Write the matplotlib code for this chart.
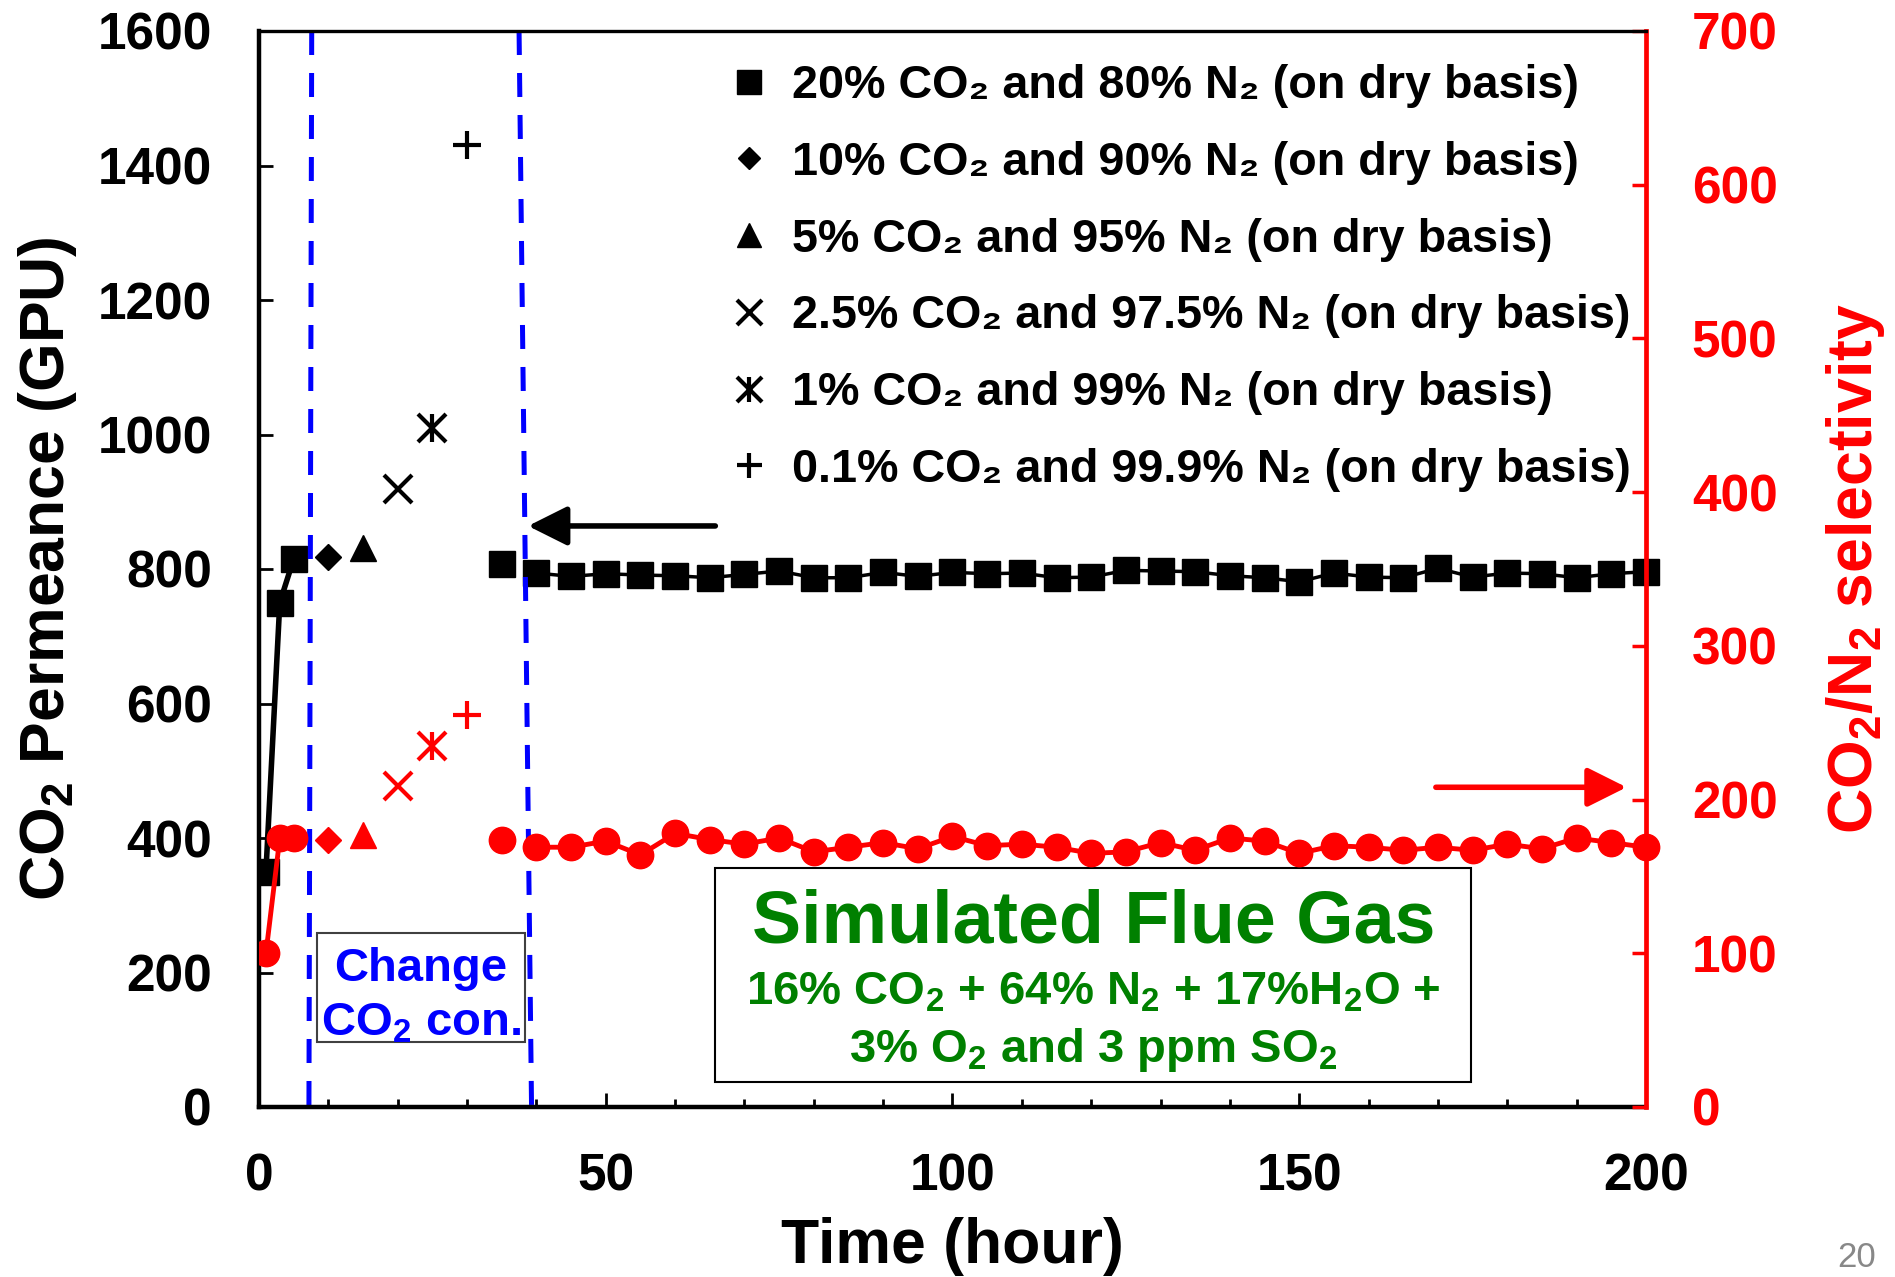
import matplotlib
matplotlib.use('Agg')
import matplotlib.pyplot as plt
from matplotlib.lines import Line2D
from matplotlib.patches import Rectangle
from matplotlib.legend_handler import HandlerTuple

plt.rcParams['font.family'] = ['Liberation Sans', 'DejaVu Sans']
plt.rcParams['font.weight'] = 'bold'
plt.rcParams['axes.labelweight'] = 'bold'
plt.rcParams['mathtext.default'] = 'regular'

# 20% CO2 start-up
t_start = [1, 3, 5]
perm_start = [350, 750, 815]
sel_start = [100, 175, 175]

# change of CO2 concentration, one point each
t_steps = [10, 15, 20, 25, 30]
perm_steps = [818, 831, 919, 1009, 1430]
sel_steps = [174, 177, 209, 235, 255]

# back to 20% CO2
t_back = [35]
perm_back = [808]
sel_back = [174]

# simulated flue gas
t_flue = list(range(40, 201, 5))
perm_flue = [794, 789, 793, 791, 790, 787, 792, 797, 787, 787, 795, 789, 795, 793,
             794, 787, 788, 798, 797, 796, 790, 787, 781, 794, 788, 787, 801, 788,
             794, 793, 787, 793, 796]
sel_flue = [169, 169, 173, 164, 178, 174, 171, 175, 166, 169, 172, 168, 176, 170,
            171, 169, 165, 166, 172, 167, 175, 173, 165, 170, 169, 167, 169, 167,
            171, 168, 175, 172, 169]

labels = ['20% CO₂ and 80% N₂ (on dry basis)',
          '10% CO₂ and 90% N₂ (on dry basis)',
          '5% CO₂ and 95% N₂ (on dry basis)',
          '2.5% CO₂ and 97.5% N₂ (on dry basis)',
          '1% CO₂ and 99% N₂ (on dry basis)',
          '0.1% CO₂ and 99.9% N₂ (on dry basis)']

# dashed separators (hour at top, hour at bottom)
sep1 = (7.6, 7.2)
sep2 = (37.5, 39.3)

fig = plt.figure(figsize=(18.95, 12.77), dpi=100)
ax = fig.add_axes([259/1895, 1-1107/1277, (1646-259)/1895, (1107-31)/1277])
ax2 = ax.twinx()

# black: permeance
ax.plot(t_start, perm_start, '-s', color='k', ms=19, lw=4)
ax.plot(t_back, perm_back, 's', color='k', ms=19)
ax.plot(t_flue, perm_flue, '-s', color='k', ms=19, lw=2.5, clip_on=False)
mk = dict(color='k', ls='none')
ax.plot(t_steps[0], perm_steps[0], marker='D', ms=13, **mk)
ax.plot(t_steps[1], perm_steps[1], marker='^', ms=19, **mk)
ax.plot(t_steps[2], perm_steps[2], marker='x', ms=20, mew=3, **mk)
ax.plot(t_steps[3], perm_steps[3], marker='x', ms=20, mew=3, **mk)
ax.plot(t_steps[3], perm_steps[3], marker='|', ms=20, mew=3, **mk)
ax.plot(t_steps[4], perm_steps[4], marker='+', ms=20, mew=3, **mk)

# red: selectivity
ax2.plot(t_start, sel_start, '-o', color='red', ms=19, lw=3.5)
ax2.plot(t_back, sel_back, 'o', color='red', ms=19)
ax2.plot(t_flue, sel_flue, '-o', color='red', ms=19, lw=3.5, clip_on=False)
mr = dict(color='red', ls='none')
ax2.plot(t_steps[0], sel_steps[0], marker='D', ms=13, **mr)
ax2.plot(t_steps[1], sel_steps[1], marker='^', ms=19, **mr)
ax2.plot(t_steps[2], sel_steps[2], marker='x', ms=20, mew=3, **mr)
ax2.plot(t_steps[3], sel_steps[3], marker='x', ms=20, mew=3, **mr)
ax2.plot(t_steps[3], sel_steps[3], marker='|', ms=20, mew=3, **mr)
ax2.plot(t_steps[4], sel_steps[4], marker='+', ms=20, mew=3, **mr)

ax.set_xlim(0, 200)
ax.set_ylim(0, 1600)
ax2.set_ylim(0, 700)
ax.set_xticks(range(0, 201, 50))
ax.set_xticks(range(0, 201, 10), minor=True)
ax.set_yticks(range(0, 1601, 200))
ax2.set_yticks(range(0, 701, 100))

for s in ['left', 'bottom']:
    ax.spines[s].set_linewidth(3.2)
ax.spines['right'].set_visible(False)
ax.spines['top'].set_visible(False)
ax2.spines['left'].set_visible(False)
ax2.spines['bottom'].set_visible(False)
ax2.spines['top'].set_linewidth(2.4)
ax2.spines['right'].set_linewidth(3.4)
ax2.spines['right'].set_color('red')

ax.tick_params(axis='x', which='major', direction='in', length=10, width=2, pad=33, labelsize=37)
ax.tick_params(axis='x', which='minor', direction='in', length=6, width=2)
ax.tick_params(axis='y', direction='in', length=10, width=2, pad=34, labelsize=37)
ax2.tick_params(axis='y', direction='in', length=10, width=2.5, pad=33, labelsize=37, colors='red')

ax.set_xlabel('Time (hour)', fontsize=45, labelpad=11)
ax.set_ylabel('CO$_2$ Permeance (GPU)', fontsize=45, labelpad=13)
ax2.set_ylabel('CO$_2$/N$_2$ selectivity', fontsize=45, color='red', labelpad=33)

# separators
ax.plot([sep1[0], sep1[1]], [1600, 0], color='blue', lw=3.6, ls=(0, (4.8, 3.6)))
ax.plot([sep2[0], sep2[1]], [1600, 0], color='blue', lw=3.6, ls=(0, (4.8, 3.6)))

# Change CO2 con. box
ax.add_patch(Rectangle((8.3, 97), 30.0, 162, facecolor='white', edgecolor='#404040', lw=1.5, zorder=3))
ax.text(23.3, 187, 'Change', color='blue', fontsize=34, ha='center', va='baseline', zorder=4)
ax.text(23.3, 107, 'CO$_2$ con.', color='blue', fontsize=34, ha='center', va='baseline', zorder=4)

# flue gas box
green = '#008000'
ax.add_patch(Rectangle((65.8, 37.6), 109.0, 318.1, facecolor='white', edgecolor='k', lw=1.5, zorder=3))
ax.text(120.3, 245, 'Simulated Flue Gas', color=green, fontsize=53, ha='center', va='baseline', zorder=4)
ax.text(120.3, 151.7, '16% CO$_2$ + 64% N$_2$ + 17%H$_2$O +', color=green, fontsize=34,
        ha='center', va='baseline', zorder=4)
ax.text(120.3, 67.4, '3% O$_2$ and 3 ppm SO$_2$', color=green, fontsize=34,
        ha='center', va='baseline', zorder=4)

# arrows
ax.annotate('', xy=(38.8, 864), xytext=(65.8, 864),
            arrowprops=dict(arrowstyle='-|>,head_length=1.2,head_width=0.6', color='k',
                            lw=4, mutation_scale=20, shrinkA=0, shrinkB=0))
ax2.annotate('', xy=(197.2, 208), xytext=(169.7, 208),
             arrowprops=dict(arrowstyle='-|>,head_length=1.2,head_width=0.6', color='red',
                             lw=4, mutation_scale=20, shrinkA=0, shrinkB=0))

# legend
h = [Line2D([], [], ls='none', marker='s', color='k', ms=19),
     Line2D([], [], ls='none', marker='D', color='k', ms=13),
     Line2D([], [], ls='none', marker='^', color='k', ms=19),
     Line2D([], [], ls='none', marker='x', color='k', ms=20, mew=3),
     (Line2D([], [], ls='none', marker='x', color='k', ms=20, mew=3),
      Line2D([], [], ls='none', marker='|', color='k', ms=20, mew=3)),
     Line2D([], [], ls='none', marker='+', color='k', ms=20, mew=3)]
ax.legend(h, labels, loc='upper left', bbox_to_anchor=(726/1895, 1-64/1277),
          bbox_transform=fig.transFigure, frameon=False, fontsize=33.7,
          handlelength=1.0, handletextpad=0.4, labelspacing=0.7, borderpad=0,
          borderaxespad=0, markerscale=0.9,
          handler_map={tuple: HandlerTuple(ndivide=1, pad=0)})

fig.text(1837/1895, 3/1277, '20', color='#888888', fontsize=25, fontweight='normal',
         ha='left', va='bottom')

fig.savefig('out.png', dpi=100)
